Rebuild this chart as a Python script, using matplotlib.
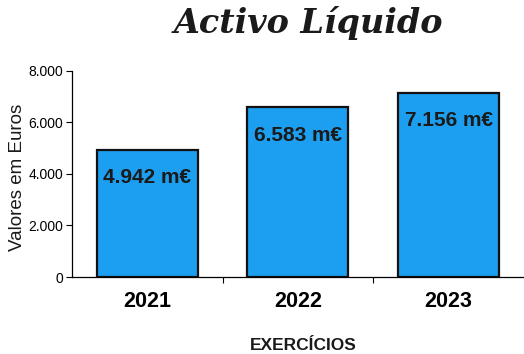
import matplotlib
matplotlib.use("Agg")
import matplotlib.pyplot as plt

# Activo líquido por exercício (milhares de euros)
years = ["2021", "2022", "2023"]
values = [4942, 6583, 7156]
value_labels = ["4.942 m€", "6.583 m€", "7.156 m€"]
y_ticks = [0, 2000, 4000, 6000, 8000]
y_tick_labels = ["0", "2.000", "4.000", "6.000", "8.000"]

BAR_COLOR = "#1c9ff0"
SANS = ["Liberation Sans", "DejaVu Sans"]

fig = plt.figure(figsize=(5.24, 3.54), dpi=100, facecolor="white")
ax = fig.add_axes([0.137, 0.2175, 0.863, 0.582])

x = list(range(len(years)))
bars = ax.bar(x, values, width=0.67, color=BAR_COLOR, edgecolor="#111111", linewidth=1.6)

for b, lab in zip(bars, value_labels):
    ax.annotate(lab, (b.get_x() + b.get_width() / 2, b.get_height()),
                xytext=(0, -20), textcoords="offset points", ha="center", va="center",
                fontsize=15, fontweight="bold", color="#1a1a1a", family=SANS)

ax.set_xlim(-0.5, len(years) - 0.5)
ax.set_ylim(0, 8000)
ax.set_yticks(y_ticks)
ax.set_yticklabels(y_tick_labels, family=SANS, fontsize=10)
ax.set_xticks(x)
ax.set_xticklabels(years, family=SANS, fontsize=15.5, fontweight="bold")
ax.tick_params(axis="x", which="major", length=0, pad=10)
ax.set_xticks([0.5, 1.5], minor=True)
ax.tick_params(axis="x", which="minor", length=4, width=0.8, direction="out")
ax.tick_params(axis="y", length=4, width=0.8, direction="out", pad=2)

for s in ("top", "right"):
    ax.spines[s].set_visible(False)
for s in ("left", "bottom"):
    ax.spines[s].set_linewidth(0.9)

fig.text(0.578, 0.025, "EXERCÍCIOS", ha="center", va="center",
         family=SANS, fontsize=12.5, fontweight="bold", color="#1a1a1a")
fig.text(0.033, 0.50, "Valores em Euros", rotation=90, ha="center", va="center",
         family=SANS, fontsize=13.5, color="#1a1a1a")
fig.text(0.588, 0.935, "Activo Líquido", ha="center", va="center",
         family=["DejaVu Serif"], fontsize=24, fontweight="bold", style="italic",
         color="#1a1a1a")

fig.savefig("out.png", dpi=100, facecolor="white")
